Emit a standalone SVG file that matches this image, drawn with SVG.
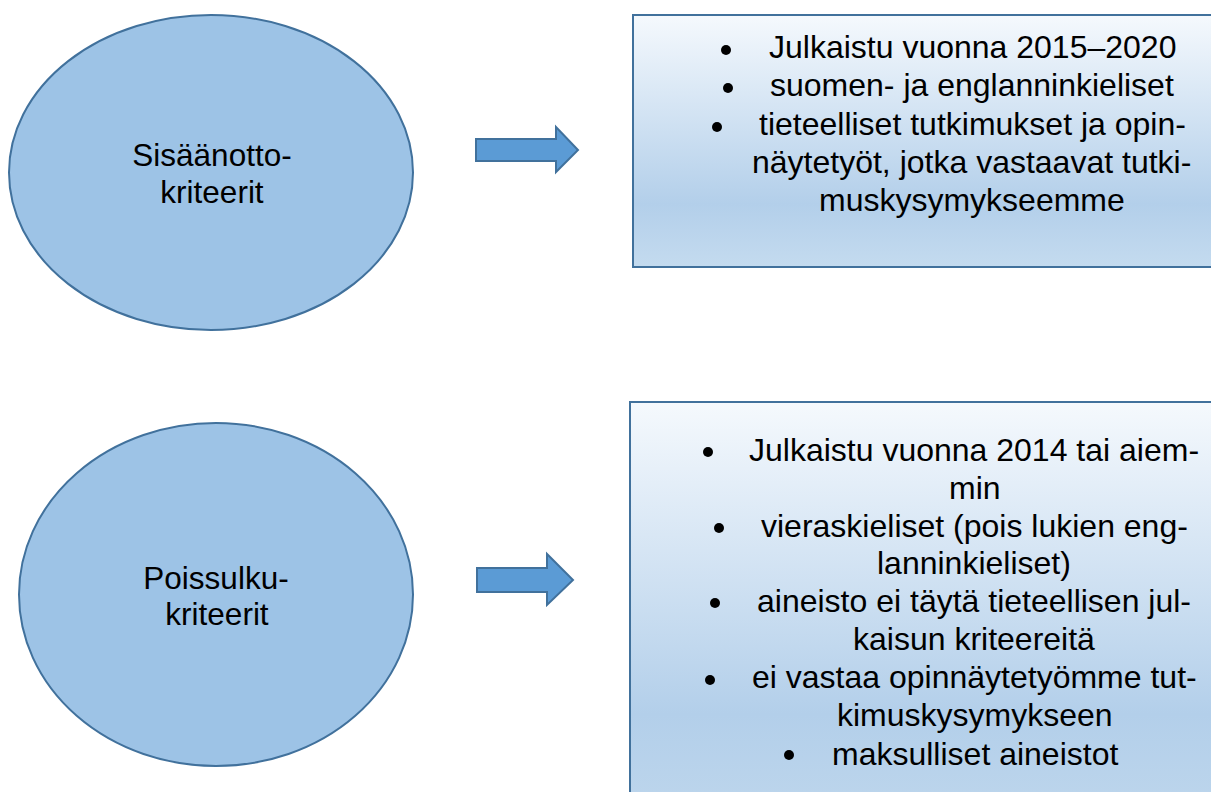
<svg xmlns="http://www.w3.org/2000/svg" width="1211" height="792" viewBox="0 0 1211 792">
<style>
.ell{fill:#9DC3E6;stroke:#41719C;stroke-width:2}
.box{stroke:#41719C;stroke-width:2}
.arr{fill:#5B9BD5;stroke:#41719C;stroke-width:2;stroke-linejoin:miter}
text{font-family:"Liberation Sans",Arial,sans-serif;fill:#000}
.lbl{font-size:31.5px;text-anchor:middle}
.itm{font-size:32px}
.bul{fill:#000}
</style>
<defs>
<linearGradient id="g1" x1="0" y1="0" x2="0" y2="1">
<stop offset="0" stop-color="#F5F9FD"/>
<stop offset="0.75" stop-color="#B3CFEA"/>
<stop offset="1" stop-color="#C4DBEF"/>
</linearGradient>
<linearGradient id="g2" x1="0" y1="0" x2="0" y2="1">
<stop offset="0" stop-color="#F5F9FD"/>
<stop offset="0.78" stop-color="#B3CFEA"/>
<stop offset="1" stop-color="#BCD5EC"/>
</linearGradient>
</defs>
<rect width="1211" height="792" fill="#fff"/>

<g id="node-sisaanotto">
<ellipse class="ell" cx="211" cy="172.5" rx="202" ry="157.5"/>
<text class="lbl" x="212" y="166">Sisäänotto-</text>
<text class="lbl" x="212" y="203">kriteerit</text>
</g>

<g id="node-poissulku">
<ellipse class="ell" cx="216" cy="594.5" rx="197" ry="171.5"/>
<text class="lbl" x="216" y="589">Poissulku-</text>
<text class="lbl" x="217" y="625">kriteerit</text>
</g>

<g id="node-inclusion-list">
<rect class="box" x="633" y="15" width="600" height="252" fill="url(#g1)"/>
<circle class="bul" cx="726" cy="50" r="5"/>
<text class="itm" x="769" y="58">Julkaistu vuonna 2015–2020</text>
<circle class="bul" cx="728" cy="88" r="5"/>
<text class="itm" x="770" y="96">suomen- ja englanninkieliset</text>
<circle class="bul" cx="717" cy="127" r="5"/>
<text class="itm" x="759" y="135">tieteelliset tutkimukset ja opin-</text>
<text class="itm" x="752" y="173">näytetyöt, jotka vastaavat tutki-</text>
<text class="itm" x="819" y="211">muskysymykseemme</text>
</g>

<g id="node-exclusion-list">
<rect class="box" x="630" y="402" width="600" height="400" fill="url(#g2)"/>
<circle class="bul" cx="708" cy="452" r="5"/>
<text class="itm" x="749" y="461">Julkaistu vuonna 2014 tai aiem-</text>
<text class="itm" x="949" y="499">min</text>
<circle class="bul" cx="719" cy="528" r="5"/>
<text class="itm" x="761" y="537">vieraskieliset (pois lukien eng-</text>
<text class="itm" x="877" y="574">lanninkieliset)</text>
<circle class="bul" cx="715" cy="603" r="5"/>
<text class="itm" x="757" y="612">aineisto ei täytä tieteellisen jul-</text>
<text class="itm" x="853" y="650">kaisun kriteereitä</text>
<circle class="bul" cx="710" cy="680" r="5"/>
<text class="itm" x="752" y="688">ei vastaa opinnäytetyömme tut-</text>
<text class="itm" x="837" y="726">kimuskysymykseen</text>
<circle class="bul" cx="789" cy="755" r="5"/>
<text class="itm" x="832" y="765">maksulliset aineistot</text>
</g>

<g id="connectors">
<polygon class="arr" points="476,139 556,139 556,127 578,150 556,172 556,161 476,161"/>
<polygon class="arr" points="477,568 547,568 547,554 573,580 547,605 547,592 477,592"/>
</g>
</svg>
